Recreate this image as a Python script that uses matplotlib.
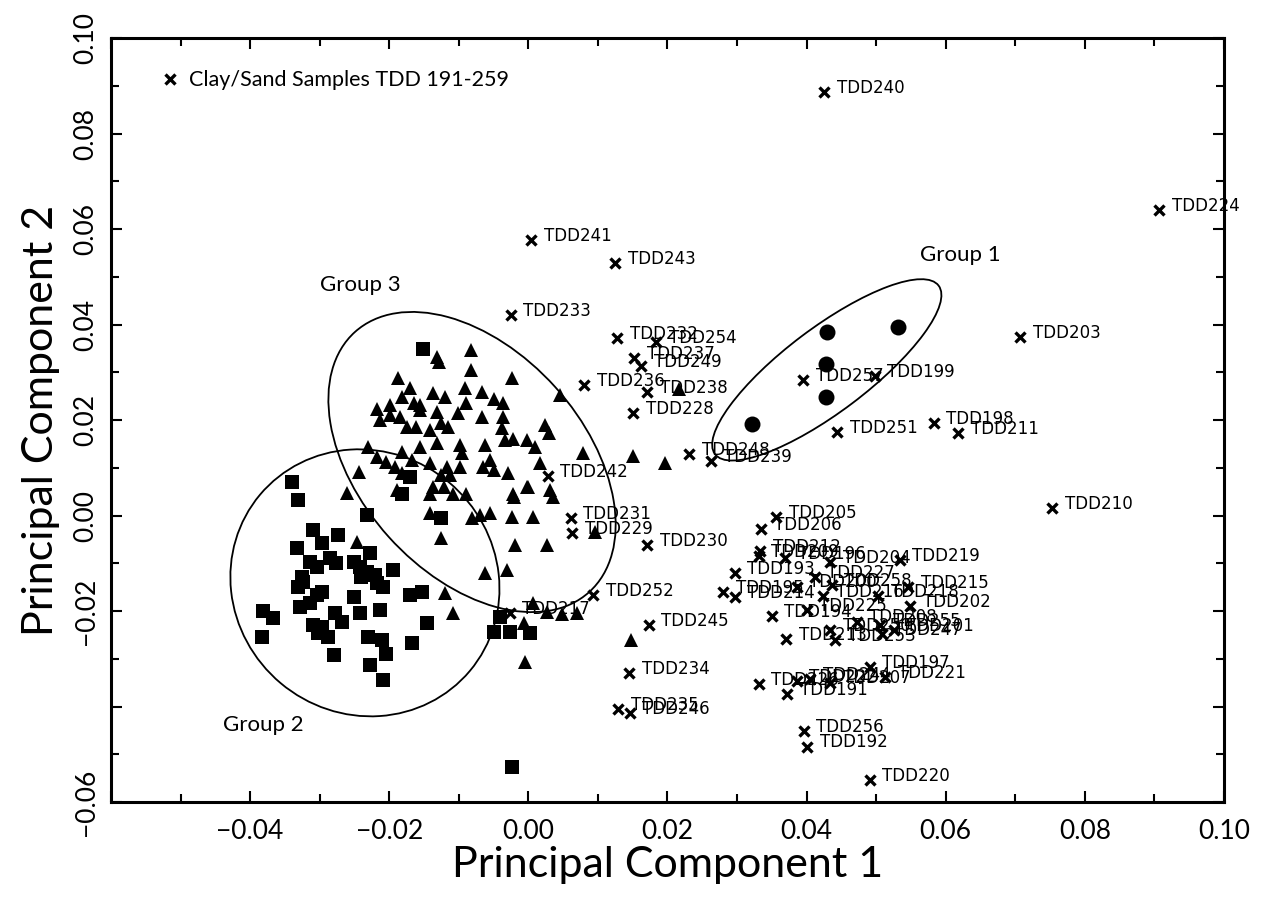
import matplotlib
matplotlib.use('Agg')
import matplotlib.pyplot as plt
from matplotlib.patches import Ellipse
from matplotlib.transforms import ScaledTranslation
from matplotlib.ticker import FixedLocator, FixedFormatter, MultipleLocator

# clay / sand samples (labelled x marks)
sample_names = ['TDD240', 'TDD224', 'TDD241', 'TDD243', 'TDD233', 'TDD232', 'TDD254', 'TDD237',
                'TDD249', 'TDD236', 'TDD238', 'TDD228', 'TDD248', 'TDD239', 'TDD242', 'TDD257',
                'TDD199', 'TDD251', 'TDD198', 'TDD211', 'TDD203', 'TDD210', 'TDD231', 'TDD229',
                'TDD230', 'TDD252', 'TDD217', 'TDD245', 'TDD234', 'TDD235', 'TDD246', 'TDD205',
                'TDD206', 'TDD212', 'TDD209', 'TDD196', 'TDD204', 'TDD219', 'TDD193', 'TDD227',
                'TDD195', 'TDD214', 'TDD200', 'TDD258', 'TDD216', 'TDD218', 'TDD215', 'TDD202',
                'TDD225', 'TDD194', 'TDD213', 'TDD250', 'TDD253', 'TDD208', 'TDD255', 'TDD247',
                'TDD201', 'TDD197', 'TDD221', 'TDD226', 'TDD222', 'TDD244', 'TDD207', 'TDD191',
                'TDD256', 'TDD192', 'TDD220']
sample_pc1 = [0.0425, 0.0907, 0.0004, 0.0125, -0.0025, 0.0128, 0.0184, 0.0152,
              0.0162, 0.0080, 0.0171, 0.0151, 0.0231, 0.0263, 0.0028, 0.0395,
              0.0498, 0.0444, 0.0583, 0.0618, 0.0707, 0.0753, 0.0061, 0.0063,
              0.0171, 0.0093, -0.0027, 0.0173, 0.0145, 0.0129, 0.0146, 0.0356,
              0.0335, 0.0333, 0.0331, 0.0369, 0.0434, 0.0534, 0.0297, 0.0412,
              0.0280, 0.0297, 0.0386, 0.0436, 0.0424, 0.0503, 0.0546, 0.0549,
              0.0400, 0.0350, 0.0371, 0.0434, 0.0441, 0.0472, 0.0506, 0.0508,
              0.0525, 0.0491, 0.0513, 0.0331, 0.0386, 0.0405, 0.0434, 0.0372,
              0.0396, 0.0401, 0.0491]
sample_pc2 = [0.0887, 0.0640, 0.0577, 0.0529, 0.0420, 0.0371, 0.0364, 0.0329,
              0.0313, 0.0273, 0.0259, 0.0214, 0.0128, 0.0114, 0.0083, 0.0284,
              0.0292, 0.0175, 0.0194, 0.0173, 0.0374, 0.0016, -0.0005, -0.0037,
              -0.0062, -0.0167, -0.0205, -0.0229, -0.0330, -0.0405, -0.0414, -0.0003,
              -0.0029, -0.0074, -0.0085, -0.0090, -0.0097, -0.0093, -0.0120, -0.0129,
              -0.0160, -0.0170, -0.0149, -0.0146, -0.0169, -0.0169, -0.0150, -0.0190,
              -0.0198, -0.0210, -0.0259, -0.0240, -0.0261, -0.0222, -0.0229, -0.0248,
              -0.0240, -0.0317, -0.0338, -0.0353, -0.0346, -0.0343, -0.0350, -0.0374,
              -0.0451, -0.0484, -0.0554]

# group 1 (circles)
g1_pc1 = [0.0429, 0.0531, 0.0428, 0.0428, 0.0321]
g1_pc2 = [0.0384, 0.0395, 0.0317, 0.0248, 0.0191]

# group 2 (squares)
g2_pc1 = [-0.0152, -0.0340, -0.0170, -0.0182, -0.0331, -0.0232, -0.0309, -0.0273, -0.0333, -0.0297,
          -0.0228, -0.0314, -0.0304, -0.0285, -0.0276, -0.0251, -0.0242, -0.0232, -0.0240, -0.0221,
          -0.0218, -0.0209, -0.0194, -0.0326, -0.0324, -0.0331, -0.0304, -0.0297, -0.0314, -0.0328,
          -0.0250, -0.0278, -0.0268, -0.0242, -0.0213, -0.0309, -0.0297, -0.0302, -0.0288, -0.0381,
          -0.0367, -0.0383, -0.0280, -0.0230, -0.0211, -0.0204, -0.0228, -0.0209, -0.0170, -0.0153,
          -0.0168, -0.0146, -0.0050, -0.0041, -0.0026, 0.0003, -0.0024, -0.0125]
g2_pc2 = [0.0348, 0.0071, 0.0081, 0.0046, 0.0033, 0.0001, -0.0030, -0.0041, -0.0069, -0.0058,
          -0.0079, -0.0097, -0.0107, -0.0090, -0.0100, -0.0097, -0.0107, -0.0118, -0.0128, -0.0125,
          -0.0142, -0.0149, -0.0114, -0.0128, -0.0139, -0.0149, -0.0167, -0.0160, -0.0184, -0.0191,
          -0.0170, -0.0205, -0.0222, -0.0205, -0.0198, -0.0229, -0.0233, -0.0247, -0.0254, -0.0201,
          -0.0215, -0.0254, -0.0292, -0.0254, -0.0261, -0.0289, -0.0313, -0.0345, -0.0167, -0.0160,
          -0.0268, -0.0226, -0.0243, -0.0212, -0.0243, -0.0247, -0.0526, -0.0006]

# group 3 (triangles)
g3_pc1 = [-0.0132, -0.0129, -0.0082, -0.0082, -0.0187, -0.0024, -0.0170, -0.0091, -0.0067, -0.0218,
          -0.0199, -0.0182, -0.0165, -0.0156, -0.0137, -0.0120, -0.0050, -0.0036, -0.0213, -0.0199,
          -0.0185, -0.0175, -0.0161, -0.0156, -0.0132, -0.0125, -0.0115, -0.0101, -0.0089, -0.0067,
          -0.0036, -0.0038, -0.0034, -0.0022, -0.0141, -0.0230, -0.0182, -0.0156, -0.0132, -0.0098,
          -0.0096, -0.0062, -0.0218, -0.0204, -0.0192, -0.0168, -0.0141, -0.0117, -0.0098, -0.0065,
          -0.0050, -0.0029, -0.0244, -0.0182, -0.0125, -0.0113, -0.0137, -0.0261, -0.0189, -0.0141,
          -0.0108, -0.0089, -0.0022, 0.0046, 0.0024, 0.0029, 0.0079, 0.0151, 0.0196, 0.0216,
          -0.0002, 0.0010, -0.0055, 0.0017, 0.0000, 0.0031, -0.0122, -0.0021, -0.0002, -0.0141,
          -0.0125, -0.0081, -0.0070, -0.0055, -0.0024, 0.0007, -0.0247, -0.0062, -0.0031, -0.0120,
          -0.0108, 0.0007, -0.0007, -0.0005, 0.0035, 0.0027, -0.0019, 0.0096, 0.0070, 0.0027,
          0.0148, 0.0048]
g3_pc2 = [0.0333, 0.0322, 0.0347, 0.0305, 0.0289, 0.0287, 0.0266, 0.0266, 0.0259, 0.0224,
          0.0231, 0.0249, 0.0235, 0.0231, 0.0256, 0.0249, 0.0245, 0.0235, 0.0200, 0.0210,
          0.0207, 0.0186, 0.0186, 0.0221, 0.0217, 0.0193, 0.0186, 0.0214, 0.0235, 0.0207,
          0.0207, 0.0183, 0.0158, 0.0161, 0.0179, 0.0144, 0.0134, 0.0144, 0.0151, 0.0148,
          0.0130, 0.0148, 0.0123, 0.0113, 0.0102, 0.0116, 0.0109, 0.0102, 0.0102, 0.0102,
          0.0095, 0.0088, 0.0092, 0.0088, 0.0085, 0.0085, 0.0060, 0.0047, 0.0053, 0.0046,
          0.0046, 0.0046, 0.0046, 0.0252, 0.0190, 0.0172, 0.0130, 0.0125, 0.0111, 0.0264,
          0.0158, 0.0144, 0.0116, 0.0109, 0.0060, 0.0053, 0.0060, 0.0039, 0.0060, 0.0005,
          -0.0048, -0.0006, 0.0001, 0.0005, -0.0003, -0.0003, -0.0055, -0.0121, -0.0114, -0.0163,
          -0.0205, -0.0184, -0.0226, -0.0306, 0.0039, -0.0062, -0.0062, -0.0035, -0.0204, -0.0202,
          -0.0261, -0.0206]

# group outlines: centre (pc1, pc2), semi-axes in pixels, tilt in degrees
group_names = ['Group 1', 'Group 2', 'Group 3']
group_centres = [(0.0429, 0.0305), (-0.0235, -0.0141), (-0.0081, 0.0112)]
group_axes_px = [(140, 42), (137, 131), (175, 112)]
group_tilt = [37, -40, -48]
group_label_pos = [(0.0621, 0.0546), (-0.0381, -0.0439), (-0.0242, 0.0483)]

x_tick_values = [-0.06, -0.04, -0.02, 0.00, 0.02, 0.04, 0.06, 0.08, 0.10]
x_tick_labels = ['', '\u22120.04', '\u22120.02', '0.00', '0.02', '0.04', '0.06', '0.08', '0.10']
y_tick_values = [-0.06, -0.04, -0.02, 0.00, 0.02, 0.04, 0.06, 0.08, 0.10]
y_tick_labels = ['\u22120.06', '', '\u22120.02', '0.00', '0.02', '0.04', '0.06', '0.08', '0.10']

fig = plt.figure(figsize=(12.66, 8.99), dpi=100)
ax = fig.add_axes([0.0877, 0.1079, 0.8791, 0.8498])

ax.plot(g3_pc1, g3_pc2, linestyle='none', marker='^', ms=10, color='black', mew=0)
ax.plot(g2_pc1, g2_pc2, linestyle='none', marker='s', ms=9.5, color='black', mew=0)
ax.plot(g1_pc1, g1_pc2, linestyle='none', marker='o', ms=11.5, color='black', mew=0)
xs, = ax.plot(sample_pc1, sample_pc2, linestyle='none', marker='x', ms=7.5, mew=2.4,
              color='black', label='Clay/Sand Samples TDD 191-259')

for name, px, py in zip(sample_names, sample_pc1, sample_pc2):
    ax.annotate(name, (px, py), xytext=(9, 3), textcoords='offset points',
                fontsize=12, family='DejaVu Sans', va='center', ha='left')

# ellipses drawn in inches so the tilt is not distorted by the axis scaling
for (cx, cy), (a, b), tilt in zip(group_centres, group_axes_px, group_tilt):
    tr = fig.dpi_scale_trans + ScaledTranslation(cx, cy, ax.transData)
    ax.add_patch(Ellipse((0, 0), 2 * a / 100, 2 * b / 100, angle=tilt, transform=tr,
                         fill=False, edgecolor='black', lw=1.3))

for name, (lx, ly) in zip(group_names, group_label_pos):
    ax.text(lx, ly, name, fontsize=16, family='Lato', ha='center', va='center')

ax.set_xlim(-0.06, 0.10)
ax.set_ylim(-0.06, 0.10)
ax.xaxis.set_major_locator(FixedLocator(x_tick_values))
ax.xaxis.set_major_formatter(FixedFormatter(x_tick_labels))
ax.yaxis.set_major_locator(FixedLocator(y_tick_values))
ax.yaxis.set_major_formatter(FixedFormatter(y_tick_labels))
ax.xaxis.set_minor_locator(MultipleLocator(0.01))
ax.yaxis.set_minor_locator(MultipleLocator(0.01))
ax.tick_params(which='both', direction='in', top=True, right=True, width=1.5)
ax.tick_params(which='major', length=8)
ax.tick_params(which='minor', length=5.5)
ax.tick_params(axis='x', labelsize=19, pad=12)
ax.tick_params(axis='y', labelsize=19, pad=9)
for lab in ax.get_xticklabels() + ax.get_yticklabels():
    lab.set_family('Lato')
plt.setp(ax.get_yticklabels(), rotation=90, va='center')

for sp in ax.spines.values():
    sp.set_linewidth(2.2)

ax.set_xlabel('Principal Component 1', fontsize=31, family='Lato')
ax.set_ylabel('Principal Component 2', fontsize=31, family='Lato')
ax.xaxis.set_label_coords(0.5, -0.058)
ax.yaxis.set_label_coords(-0.046, 0.5)

ax.legend(handles=[xs], loc='upper left', bbox_to_anchor=(0.043, 0.958), frameon=False,
          handlelength=1.0, handletextpad=0.4, borderaxespad=0, borderpad=0,
          prop=dict(family='Lato', size=15.5))

fig.savefig('out.png', dpi=100)
